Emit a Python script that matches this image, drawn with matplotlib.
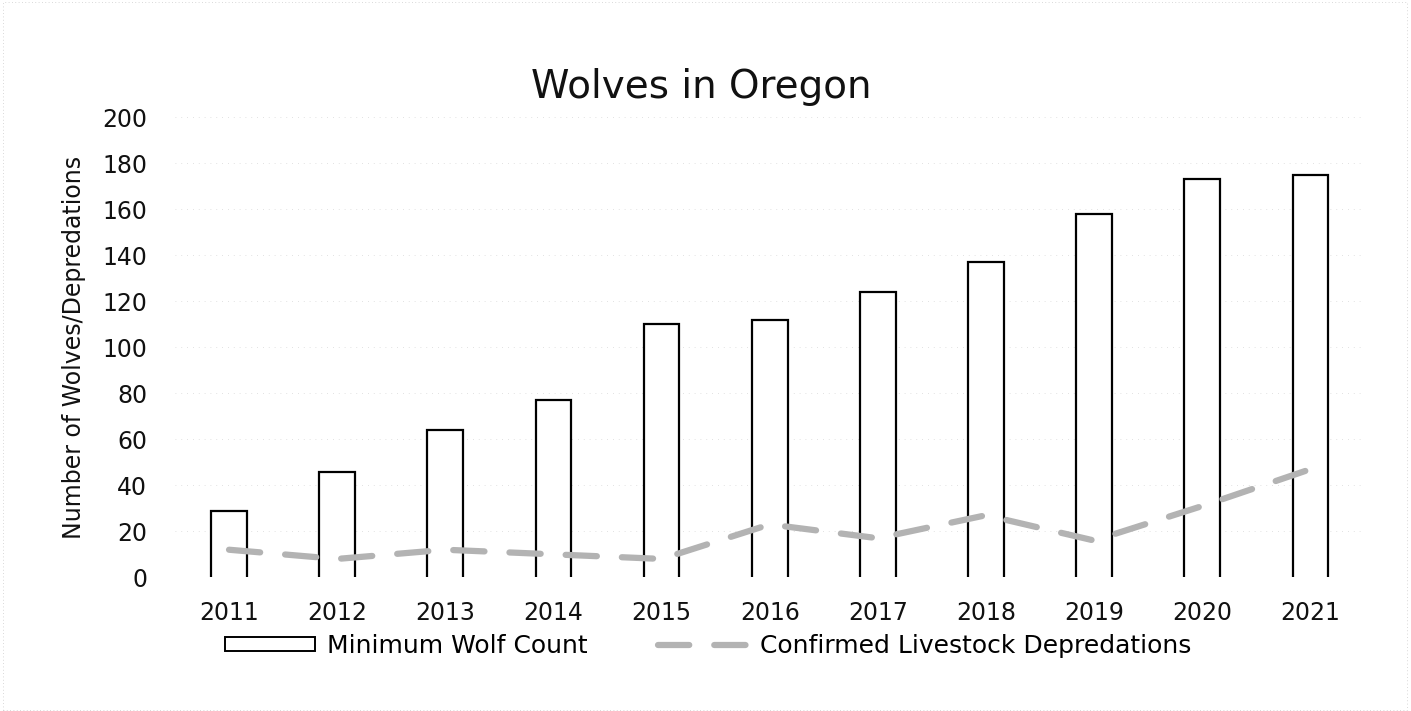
import matplotlib.pyplot as plt
from matplotlib.patches import Rectangle
from matplotlib.lines import Line2D

# 資料
years = ['2011', '2012', '2013', '2014', '2015', '2016', '2017', '2018', '2019', '2020', '2021']
wolf_count = [29, 46, 64, 77, 110, 112, 124, 137, 158, 173, 175]
depredations = [12, 8, 12, 10, 8, 23, 17, 27, 16, 31, 47]
y_ticks = [0, 20, 40, 60, 80, 100, 120, 140, 160, 180, 200]

plt.rcParams['font.family'] = ['DejaVu Sans']

fig = plt.figure(figsize=(14.11, 7.11), dpi=100)
ax = fig.add_axes([0.124, 0.188, 0.843, 0.647])

x = list(range(len(years)))
bars = ax.bar(x, wolf_count, width=0.33, color='white', edgecolor='none', zorder=2)
# 只畫三邊外框，底部開口
for b in bars:
    x0, x1, h = b.get_x(), b.get_x() + b.get_width(), b.get_height()
    ax.plot([x0, x0, x1, x1], [0, h, h, 0], color='black', lw=1.6, zorder=3,
            solid_joinstyle='miter')

line_color = '#b3b3b3'
ax.plot(x, depredations, color=line_color, lw=4.5, dashes=(5, 4),
        dash_capstyle='round', zorder=4)

ax.set_xlim(-0.5, len(years) - 0.5)
ax.set_ylim(0, 200)
ax.set_yticks(y_ticks)
ax.set_xticks(x)
ax.set_xticklabels(years)
ax.tick_params(axis='both', length=0, labelsize=17, colors='#111111')
ax.tick_params(axis='x', pad=17)
ax.tick_params(axis='y', pad=20)
for s in ax.spines.values():
    s.set_visible(False)
ax.yaxis.grid(True, color='#d8d8d8', lw=0.6, ls=(0, (1, 6)), zorder=0)
ax.set_axisbelow(True)

ax.set_ylabel('Number of Wolves/Depredations', fontsize=17, color='#111111', labelpad=12)
fig.text(0.497, 0.878, 'Wolves in Oregon', fontsize=28, ha='center', va='center', color='#111111')

# 圖例
handles = [Rectangle((0, 0), 1, 1, facecolor='white', edgecolor='black', lw=1.4),
           Line2D([0], [0], color=line_color, lw=4.5, dashes=(5, 4), dash_capstyle='round')]
fig.legend(handles, ['Minimum Wolf Count', 'Confirmed Livestock Depredations'],
           loc='center', bbox_to_anchor=(0.502, 0.092), ncol=2, frameon=False,
           fontsize=18, handlelength=3.6, handleheight=0.5, columnspacing=2.8,
           handletextpad=0.5)

# 外框虛線
fig.patches.append(Rectangle((0.002, 0.002), 0.995, 0.995, transform=fig.transFigure,
                             fill=False, edgecolor='#cccccc', lw=0.6, ls=(0, (1, 3))))

plt.savefig('out.png', dpi=100)
